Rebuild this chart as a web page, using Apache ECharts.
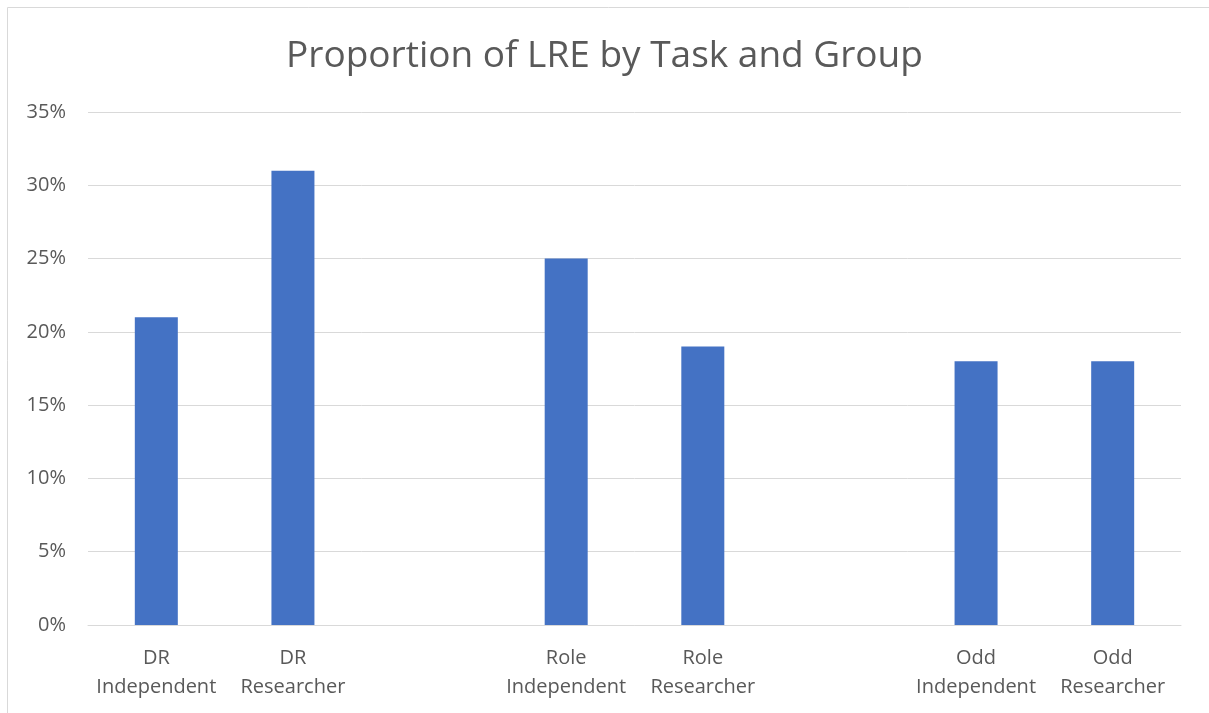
<!DOCTYPE html>
<html>
<head>
<meta charset="utf-8">
<script src="https://cdn.jsdelivr.net/npm/echarts@6/dist/echarts.min.js"></script>
<style>
  html, body { margin: 0; padding: 0; background: #fff; }
  #chart { width: 1209px; height: 713px; }
</style>
</head>
<body>
<div id="chart"></div>
<script>
// empty strings are the blank gaps between the task groups
const categories = [
  'DR\nIndependent', 'DR\nResearcher', '',
  'Role\nIndependent', 'Role\nResearcher', '',
  'Odd\nIndependent', 'Odd\nResearcher'
]
const proportions = [21, 31, '-', 25, 19, '-', 18, 18]
const yTicks = { min: 0, max: 35, step: 5 }

const textColor = '#595959'
const lineColor = '#d9d9d9'
const fontFamily = '"Open Sans", "Noto Sans", sans-serif'

const chart = echarts.init(document.getElementById('chart'))

chart.setOption({
  animation: false,
  title: {
    text: 'Proportion of LRE by Task and Group',
    left: 'center',
    top: 33,
    textStyle: {
      color: textColor,
      fontSize: 37,
      fontWeight: 'normal',
      fontFamily
    }
  },
  graphic: [
    {
      type: 'rect',
      shape: { x: 7.5, y: 7.5, width: 1230, height: 730 },
      style: { fill: 'none', stroke: lineColor, lineWidth: 1 },
      silent: true
    }
  ],
  grid: {
    left: 88,
    right: 28,
    top: 112,
    bottom: 88
  },
  xAxis: {
    type: 'category',
    data: categories,
    axisTick: { show: false },
    axisLine: { lineStyle: { color: lineColor, width: 1 } },
    axisLabel: {
      color: textColor,
      fontSize: 20,
      lineHeight: 29,
      margin: 19,
      interval: 0,
      fontFamily
    }
  },
  yAxis: {
    type: 'value',
    min: yTicks.min,
    max: yTicks.max,
    interval: yTicks.step,
    axisLine: { show: false },
    axisTick: { show: false },
    axisLabel: {
      color: textColor,
      fontSize: 20,
      margin: 22,
      formatter: '{value}%',
      fontFamily
    },
    splitLine: { lineStyle: { color: lineColor, width: 1 } }
  },
  series: [
    {
      name: 'Proportion',
      type: 'bar',
      barWidth: 43,
      itemStyle: { color: '#4472C4' },
      data: proportions
    }
  ]
})
</script>
</body>
</html>
